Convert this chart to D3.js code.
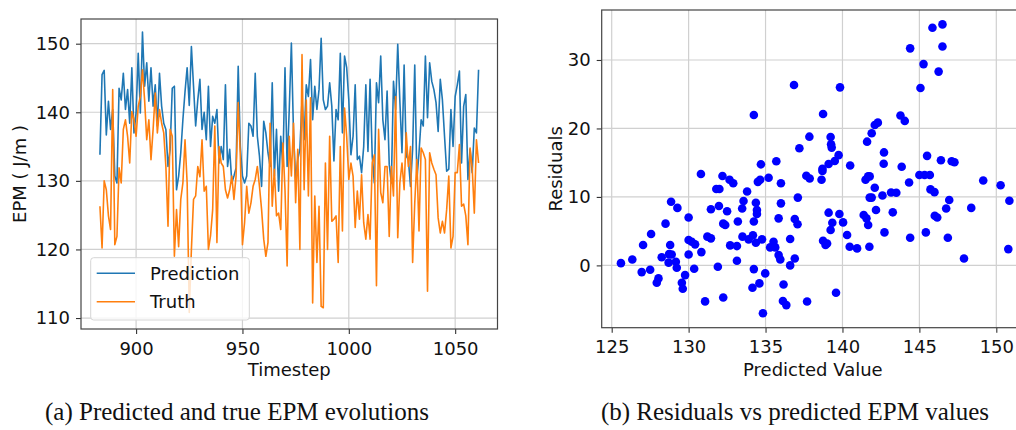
<!DOCTYPE html>
<html>
<head>
<meta charset="utf-8">
<script src="https://cdn.jsdelivr.net/npm/d3@7"></script>
<style>
    body { margin: 0; background: #fff; }
    svg text { font-family: "DejaVu Sans", sans-serif; fill: #111; }
    svg text.caption { font-family: "Liberation Serif", "DejaVu Serif", serif; }
</style>
</head>
<body>
<div id="chart"></div>
<script>

// ---- left panel: EPM evolution (timesteps 883..1061) ----
var startStep = 883;

var prediction = [
    133.8, 145.5, 146.1, 136.7, 141.6, 137.5, 140.4, 130.7, 129.7, 143.5,
    141.8, 145.7, 140.4, 143.3, 138.4, 146.5, 137.0, 139.9, 148.6, 139.9,
    151.7, 143.8, 147.2, 141.6, 146.5, 140.9, 144.0, 138.0, 145.7, 140.9,
    138.4, 137.5, 132.1, 134.6, 143.5, 143.8, 128.7, 130.7, 134.1, 138.9,
    143.0, 146.5, 141.0, 149.6, 143.8, 138.0, 141.8, 144.8, 137.5, 140.0,
    136.0, 143.8, 135.0, 139.4, 138.4,
    140.4, 132.6, 135.0, 133.1, 144.0, 132.1, 134.6, 129.7, 130.7, 131.9,
    146.7, 135.0, 130.7, 129.7, 130.7, 138.4, 138.0, 136.5, 145.7, 136.5,
    133.6, 129.2, 138.7, 137.0, 134.1, 132.1, 144.3, 130.7, 137.5, 128.5,
    136.5, 132.1, 146.5, 132.1, 140.4, 150.1, 137.0, 130.2, 133.1, 134.6,
    141.8, 136.0, 144.0, 142.3, 147.7, 138.9, 143.8, 140.4, 143.3, 150.8,
    141.8, 140.4, 140.9, 144.3, 140.9, 132.9, 140.4, 138.9,
    148.6, 137.0, 148.2, 146.5, 141.8, 133.8, 136.5, 144.0, 133.1, 133.6,
    131.2, 135.0, 144.0, 134.3, 144.8, 133.6, 129.7, 144.3, 141.4, 148.2,
    138.9, 136.0, 143.1, 132.4, 129.7, 144.5, 140.4, 149.9, 141.6, 134.1,
    146.9, 133.6, 133.1, 129.2, 134.6, 146.9, 130.2, 134.1, 138.9, 138.0,
    148.2, 139.2, 147.2, 144.5, 143.3, 141.4, 137.2, 144.8, 141.8, 136.5,
    131.4, 131.7, 140.4, 135.0, 142.3, 144.0, 146.0, 132.6, 140.9, 142.6,
    130.2, 134.6, 131.2, 137.7, 137.0, 146.2
];

var truth = [
    126.3, 120.2, 130.0, 128.7, 124.9, 122.9, 143.3, 120.7, 121.9, 131.9,
    129.7, 137.5, 138.9, 136.5, 132.6, 140.1, 138.9, 136.5, 140.9, 142.3,
    146.2, 141.8, 136.0, 138.9, 133.1, 137.5, 142.8, 137.0, 140.4, 138.4,
    137.0, 132.1, 123.4, 137.5, 136.5, 119.0, 125.8, 120.4, 127.3, 129.7,
    136.0, 129.7, 110.8, 120.0, 127.3, 127.8, 132.1, 130.6, 136.0, 128.5,
    129.2, 120.0, 122.0, 125.8, 138.0,
    121.0, 135.0, 132.6, 132.1, 128.7, 127.5, 128.7, 130.7, 127.3, 130.7,
    141.4, 133.6, 120.7, 123.9, 129.2, 125.3, 126.8, 129.2, 130.2, 132.1,
    129.2, 125.8, 121.5, 119.0, 121.0, 138.4, 126.3, 131.7, 124.9, 125.3,
    122.9, 135.5, 128.7, 117.6, 136.5, 130.7, 138.4, 126.8, 134.6, 120.0,
    148.4, 128.7, 141.8, 127.8, 142.1, 112.2, 127.8, 118.1, 126.3, 111.7,
    111.5, 132.6, 120.0, 136.5, 124.1, 124.4, 124.9, 118.1,
    135.0, 122.7, 140.6, 136.5, 130.2, 132.6, 130.7, 123.2, 128.5, 124.4,
    130.9, 123.9, 121.5, 125.1, 121.5, 132.6, 133.8, 114.7, 137.5, 128.3,
    126.8, 132.1, 132.1, 121.9, 132.1, 127.8, 142.3, 121.7, 129.7, 132.6,
    128.7, 137.0, 132.1, 135.0, 118.1, 126.8, 133.1, 122.7, 134.8, 134.1,
    133.1, 113.9, 134.1, 132.6, 131.7, 130.9, 124.6, 122.4, 124.1, 122.4,
    125.8, 130.7, 120.2, 121.9, 131.2, 131.2, 135.3, 126.3, 126.6, 124.9,
    120.7, 134.8, 131.9, 125.3, 136.0, 132.6
];

var timesteps = d3.range(startStep, startStep + prediction.length);

var seriesNames = ["Prediction", "Truth"];
var seriesColours = ["#1f77b4", "#ff7f0e"];

var epmTicks = [110, 120, 130, 140, 150];
var stepTicks = [900, 950, 1000, 1050];

// ---- right panel: residuals vs predicted value ----
var predictedValues = [
    136.85, 134.24, 134.7, 135.7, 137.2, 137.85,
    146.5, 145.85, 146.5, 144.4, 145.27, 146.25, 139.84, 145.07, 138.74, 143.77,
    144.05, 142.3, 142.1, 141.9, 139.23, 139.26, 139.3, 141.6, 142.7, 139.75,
    139.5, 139.1, 138.7, 140.5, 142.68, 143.85, 145.5, 146.4, 147.1, 147.28,
    130.8, 132.2, 132.66, 132.9, 131.8, 132.0, 133.8, 134.5, 134.65, 135.2,
    136.0, 137.65, 137.87, 128.86, 129.27, 131.97, 131.45, 132.5, 133.57, 133.48,
    134.37, 134.44, 134.44, 134.24, 136.0, 137.1, 135.85, 136.9, 137.08, 130.0,
    128.5, 127.56, 127.04, 128.8, 128.9, 128.73, 128.25, 126.34, 125.6, 128.7,
    129.17, 129.23, 126.95, 127.5, 128.04, 127.93, 129.77, 129.56, 129.62, 130.0,
    130.2, 130.42, 130.0, 130.36, 130.83, 131.22, 131.45, 131.9, 131.07, 132.25,
    132.7, 133.14, 132.25, 132.38, 133.2, 133.5, 133.9, 134.18, 134.37, 134.77,
    133.14, 134.24, 134.98, 134.6, 134.15, 134.83, 135.3, 135.52, 135.63, 135.85,
    135.96, 136.17, 136.13, 136.35, 136.6, 136.6, 136.9, 137.7,
    138.7, 138.64, 141.5, 141.67, 141.77, 142.1, 141.77, 141.9, 142.6, 143.16,
    143.5, 144.33, 145.0, 145.34, 145.68, 145.72, 145.98, 149.15, 150.28, 150.85,
    146.94, 146.74, 148.37, 146.0, 146.16, 145.42, 146.85, 144.4, 147.9, 150.78,
    142.73, 143.27, 142.18, 141.38, 141.56, 141.67, 139.8, 139.1, 139.34, 139.23,
    140.04, 140.3, 140.47, 140.95, 141.75, 138.74, 138.9, 139.0, 139.58
];

var residuals = [
    26.35, 21.97, 14.76, 15.2, 17.1, 18.8,
    35.2, 34.7, 31.96, 31.7, 29.4, 28.3, 26.0, 25.9, 22.1, 21.9,
    21.1, 20.85, 20.5, 19.3, 18.76, 17.7, 17.2, 18.07, 16.5, 16.1,
    15.25, 14.8, 14.1, 14.6, 14.85, 14.4, 16.0, 15.35, 15.2, 15.06,
    13.35, 13.05, 12.5, 12.0, 11.15, 11.15, 10.8, 12.2, 12.5, 12.8,
    12.0, 13.1, 12.7, 9.3, 8.4, 8.67, 8.2, 7.9, 9.4, 8.3,
    9.15, 8.1, 7.5, 6.4, 9.06, 9.9, 6.87, 6.77, 6.0, 7.0,
    6.1, 4.58, 2.97, 2.97, 1.6, 1.65, 1.2, 0.87, 0.33, 0.4,
    0.53, -0.35, -0.98, -0.64, -1.9, -2.54, -1.42, -2.54, -3.4, 3.7,
    3.45, 3.07, 1.6, -0.5, 1.94, 4.2, 3.95, -0.2, -5.26, -4.7,
    2.92, 2.82, 6.1, 5.9, 6.4, 4.2, 3.8, 4.4, 3.3, 3.8,
    0.67, -0.54, -1.17, -2.63, -3.27, -7.0, 2.63, 3.45, 2.63, 1.5,
    0.87, -2.78, -5.2, -5.8, 3.85, 0.0, 1.0, -5.27,
    13.8, 12.5, 12.5, 13.0, 13.0, 11.35, 9.9, 9.9, 10.2, 10.65,
    10.6, 12.1, 13.2, 13.2, 13.2, 11.1, 10.7, 12.4, 11.7, 9.45,
    9.55, 8.3, 8.4, 7.25, 7.0, 4.82, 4.04, 4.04, 1.0, 2.38,
    4.82, 7.75, 8.08, 7.35, 6.87, 5.9, 7.5, 7.7, 6.23, 5.16,
    6.28, 4.43, 2.72, 2.48, 2.72, 3.6, 2.97, 3.2, -4.0
];

var predTicks = [125, 130, 135, 140, 145, 150];
var residualTicks = [0, 10, 20, 30];

var captions = ["(a) Predicted and true EPM evolutions", "(b) Residuals vs predicted EPM values"];

var width = 1016;
var height = 430;

var svg = d3.select("#chart")
    .append("svg")
    .attr("width", width)
    .attr("height", height);

var defs = svg.append("defs");

// plot boxes
var leftBox = { left: 81, right: 497.5, top: 19, bottom: 329 };
var rightBox = { left: 601.7, right: 1024, top: 10, bottom: 327.7 };

var xStep = d3.scaleLinear()
    .domain([874.1, 1069.9])
    .range([leftBox.left, leftBox.right]);

var yEpm = d3.scaleLinear()
    .domain([108.4, 153.6])
    .range([leftBox.bottom, leftBox.top]);

var xPred = d3.scaleLinear()
    .domain([124.35, 151.8])
    .range([rightBox.left, rightBox.right]);

var yRes = d3.scaleLinear()
    .domain([-9.1, 37.3])
    .range([rightBox.bottom, rightBox.top]);

function drawPanel(id, box, x, y, xTicks, yTicks) {
    var g = svg.append("g").attr("class", id);

    defs.append("clipPath")
        .attr("id", "clip-" + id)
        .append("rect")
        .attr("x", box.left)
        .attr("y", box.top)
        .attr("width", box.right - box.left)
        .attr("height", box.bottom - box.top);

    // grid
    g.append("g")
        .selectAll("line.vgrid")
        .data(xTicks)
        .enter()
        .append("line")
        .attr("class", "vgrid")
        .attr("x1", function(d) { return x(d); })
        .attr("x2", function(d) { return x(d); })
        .attr("y1", box.top)
        .attr("y2", box.bottom)
        .style("stroke", "#d0d0d0")
        .style("stroke-width", 1.2);

    g.append("g")
        .selectAll("line.hgrid")
        .data(yTicks)
        .enter()
        .append("line")
        .attr("class", "hgrid")
        .attr("x1", box.left)
        .attr("x2", box.right)
        .attr("y1", function(d) { return y(d); })
        .attr("y2", function(d) { return y(d); })
        .style("stroke", "#d0d0d0")
        .style("stroke-width", 1.2);

    var plot = g.append("g")
        .attr("clip-path", "url(#clip-" + id + ")");

    // axes
    var xAxis = g.append("g")
        .attr("transform", "translate(0," + box.bottom + ")")
        .call(d3.axisBottom(x).tickValues(xTicks).tickFormat(d3.format("d"))
            .tickSize(5).tickSizeOuter(0).tickPadding(8));

    var yAxis = g.append("g")
        .attr("transform", "translate(" + box.left + ",0)")
        .call(d3.axisLeft(y).tickValues(yTicks).tickFormat(d3.format("d"))
            .tickSize(5).tickSizeOuter(0).tickPadding(6));

    [xAxis, yAxis].forEach(function(a) {
        a.select(".domain").remove();
        a.selectAll(".tick line").style("stroke", "#333").style("stroke-width", 1.1);
        a.selectAll(".tick text")
            .style("font-size", "18px")
            .style("font-family", "'DejaVu Sans', sans-serif")
            .style("fill", "#111");
    });

    // spines
    g.append("rect")
        .attr("x", box.left)
        .attr("y", box.top)
        .attr("width", box.right - box.left)
        .attr("height", box.bottom - box.top)
        .style("fill", "none")
        .style("stroke", "#444")
        .style("stroke-width", 1.2);

    return plot;
}

// ---------- left panel ----------
var leftPlot = drawPanel("left", leftBox, xStep, yEpm, stepTicks, epmTicks);

var line = d3.line()
    .x(function(d, j) { return xStep(timesteps[j]); })
    .y(function(d) { return yEpm(d); });

[prediction, truth].forEach(function(series, k) {
    leftPlot.append("path")
        .datum(series)
        .attr("d", line)
        .style("fill", "none")
        .style("stroke", seriesColours[k])
        .style("stroke-width", 1.6)
        .style("stroke-linejoin", "round");
});

// legend
var legend = svg.append("g")
    .attr("transform", "translate(90.7,257.7)");

legend.append("rect")
    .attr("width", 158.6)
    .attr("height", 62.3)
    .attr("rx", 3)
    .style("fill", "#fff")
    .style("fill-opacity", 0.8)
    .style("stroke", "#d6d6d6")
    .style("stroke-width", 1);

seriesNames.forEach(function(name, k) {
    var row = legend.append("g")
        .attr("transform", "translate(0," + (15.6 + k * 28.4) + ")");
    row.append("line")
        .attr("x1", 6)
        .attr("x2", 44.3)
        .style("stroke", seriesColours[k])
        .style("stroke-width", 1.6);
    row.append("text")
        .attr("x", 59.3)
        .attr("dy", "0.35em")
        .style("font-size", "18px")
        .text(name);
});

svg.append("text")
    .attr("x", (leftBox.left + leftBox.right) / 2)
    .attr("y", 376)
    .attr("text-anchor", "middle")
    .style("font-size", "18px")
    .text("Timestep");

svg.append("text")
    .attr("transform", "translate(26," + (leftBox.top + leftBox.bottom) / 2 + ") rotate(-90)")
    .attr("text-anchor", "middle")
    .style("font-size", "18px")
    .text("EPM ( J/m )");

// ---------- right panel ----------
var rightPlot = drawPanel("right", rightBox, xPred, yRes, predTicks, residualTicks);

rightPlot.selectAll("circle")
    .data(predictedValues)
    .enter()
    .append("circle")
    .attr("cx", function(d) { return xPred(d); })
    .attr("cy", function(d, j) { return yRes(residuals[j]); })
    .attr("r", 4.3)
    .style("fill", "#0000ff");

svg.append("text")
    .attr("x", (rightBox.left + rightBox.right) / 2)
    .attr("y", 376)
    .attr("text-anchor", "middle")
    .style("font-size", "18px")
    .text("Predicted Value");

svg.append("text")
    .attr("transform", "translate(562," + (rightBox.top + rightBox.bottom) / 2 + ") rotate(-90)")
    .attr("text-anchor", "middle")
    .style("font-size", "18px")
    .text("Residuals");

// ---------- captions ----------
svg.selectAll("text.caption")
    .data(captions)
    .enter()
    .append("text")
    .attr("class", "caption")
    .attr("x", function(d, j) { return j === 0 ? 237 : 795; })
    .attr("y", 420)
    .attr("text-anchor", "middle")
    .style("font-size", "25px")
    .text(function(d) { return d; });

</script>
</body>
</html>
